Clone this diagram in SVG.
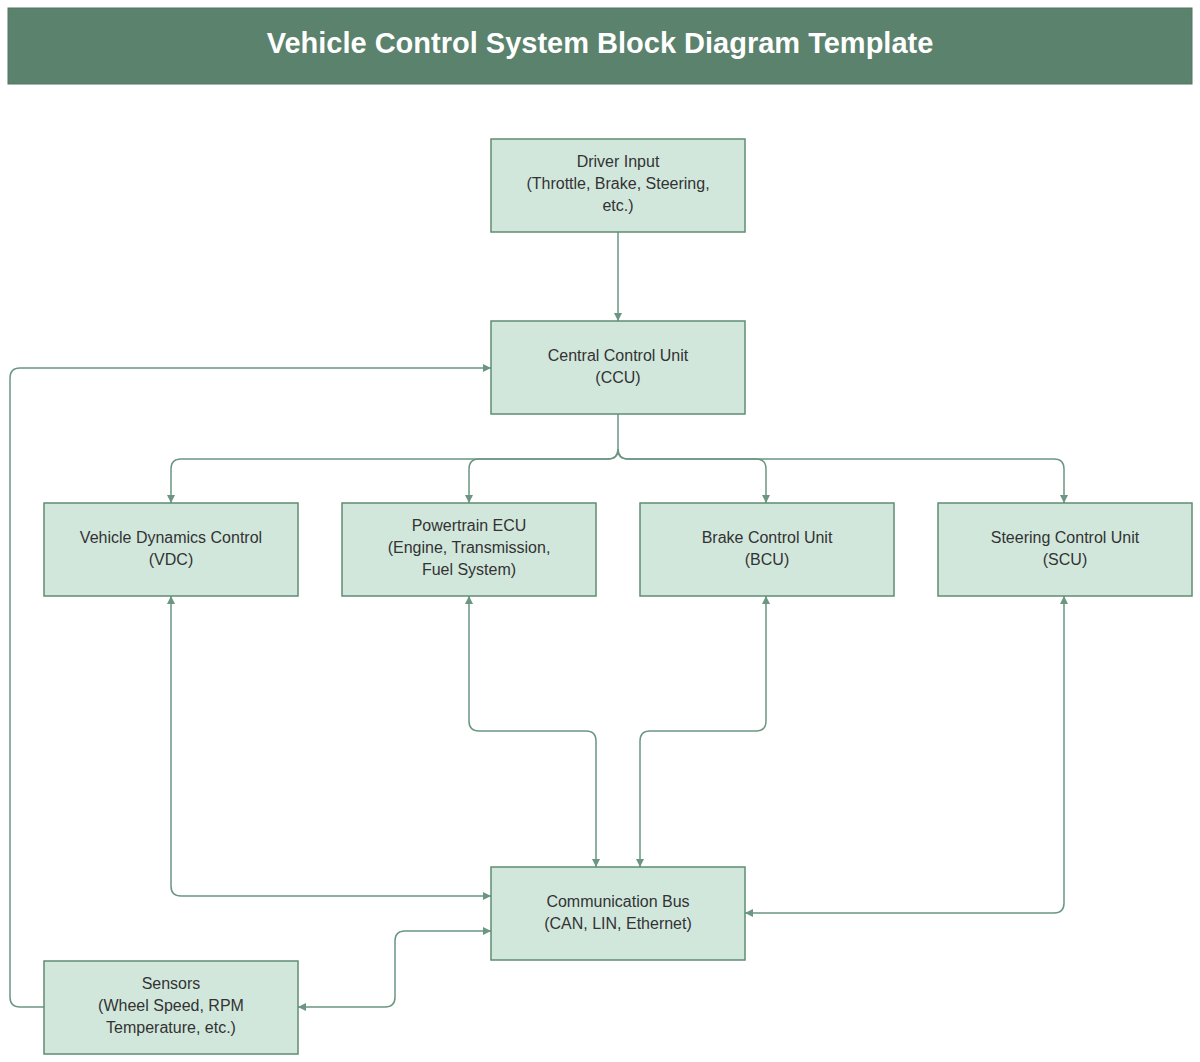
<svg xmlns="http://www.w3.org/2000/svg" width="1200" height="1062" viewBox="0 0 1200 1062">
<style>
.n{fill:#d1e7dc;stroke:#5f8c73;stroke-width:1.5}
.t{font-family:"Liberation Sans",Arial,sans-serif;font-size:16px;fill:#333;text-anchor:middle}
.c{fill:none;stroke:#6b9682;stroke-width:1.5}
</style>
<defs>
<marker id="a" viewBox="0 0 10 10" refX="10" refY="5" markerWidth="8" markerHeight="8" markerUnits="userSpaceOnUse" orient="auto-start-reverse" style="overflow:visible">
<path d="M0,0 L10,5 L0,10 z" fill="#6b9682"/>
</marker>
</defs>
<rect width="1200" height="1062" fill="#fff"/>
<g id="title">
<rect x="8" y="8" width="1184" height="76" fill="#5b826c" stroke="#4e7660"/>
<text x="600" y="53" font-family="Liberation Sans,Arial,sans-serif" font-size="29" font-weight="bold" fill="#fff" text-anchor="middle">Vehicle Control System Block Diagram Template</text>
</g>
<g id="connectors">
<path class="c" d="M618,232 V321" marker-end="url(#a)"/>
<path class="c" d="M618,414 V449 Q618,459 608,459 H181 Q171,459 171,469 V503" marker-end="url(#a)"/>
<path class="c" d="M618,449 Q618,459 608,459 H479 Q469,459 469,469 V503" marker-end="url(#a)"/>
<path class="c" d="M618,449 Q618,459 628,459 H756 Q766,459 766,469 V503" marker-end="url(#a)"/>
<path class="c" d="M618,449 Q618,459 628,459 H1054 Q1064,459 1064,469 V503" marker-end="url(#a)"/>
<path class="c" d="M44,1007 H20 Q10,1007 10,997 V378 Q10,368 20,368 H491" marker-end="url(#a)"/>
<path class="c" d="M171,596 V886 Q171,896 181,896 H491" marker-start="url(#a)" marker-end="url(#a)"/>
<path class="c" d="M469,596 V721 Q469,731 479,731 H586 Q596,731 596,741 V867" marker-start="url(#a)" marker-end="url(#a)"/>
<path class="c" d="M766,596 V721 Q766,731 756,731 H650 Q640,731 640,741 V867" marker-start="url(#a)" marker-end="url(#a)"/>
<path class="c" d="M1064,596 V903 Q1064,913 1054,913 H745" marker-start="url(#a)" marker-end="url(#a)"/>
<path class="c" d="M491,931 H405 Q395,931 395,941 V997 Q395,1007 385,1007 H298" marker-start="url(#a)" marker-end="url(#a)"/>
</g>
<g id="driver"><rect class="n" x="491" y="139" width="254" height="93"/>
<text class="t" x="618" y="167">Driver Input</text><text class="t" x="618" y="189">(Throttle, Brake, Steering,</text><text class="t" x="618" y="211">etc.)</text></g>
<g id="ccu"><rect class="n" x="491" y="321" width="254" height="93"/>
<text class="t" x="618" y="361">Central Control Unit</text><text class="t" x="618" y="383">(CCU)</text></g>
<g id="vdc"><rect class="n" x="44" y="503" width="254" height="93"/>
<text class="t" x="171" y="543">Vehicle Dynamics Control</text><text class="t" x="171" y="565">(VDC)</text></g>
<g id="ecu"><rect class="n" x="342" y="503" width="254" height="93"/>
<text class="t" x="469" y="531">Powertrain ECU</text><text class="t" x="469" y="553">(Engine, Transmission,</text><text class="t" x="469" y="575">Fuel System)</text></g>
<g id="bcu"><rect class="n" x="640" y="503" width="254" height="93"/>
<text class="t" x="767" y="543">Brake Control Unit</text><text class="t" x="767" y="565">(BCU)</text></g>
<g id="scu"><rect class="n" x="938" y="503" width="254" height="93"/>
<text class="t" x="1065" y="543">Steering Control Unit</text><text class="t" x="1065" y="565">(SCU)</text></g>
<g id="bus"><rect class="n" x="491" y="867" width="254" height="93"/>
<text class="t" x="618" y="907">Communication Bus</text><text class="t" x="618" y="929">(CAN, LIN, Ethernet)</text></g>
<g id="sensors"><rect class="n" x="44" y="961" width="254" height="93"/>
<text class="t" x="171" y="989">Sensors</text><text class="t" x="171" y="1011">(Wheel Speed, RPM</text><text class="t" x="171" y="1033">Temperature, etc.)</text></g>
</svg>
